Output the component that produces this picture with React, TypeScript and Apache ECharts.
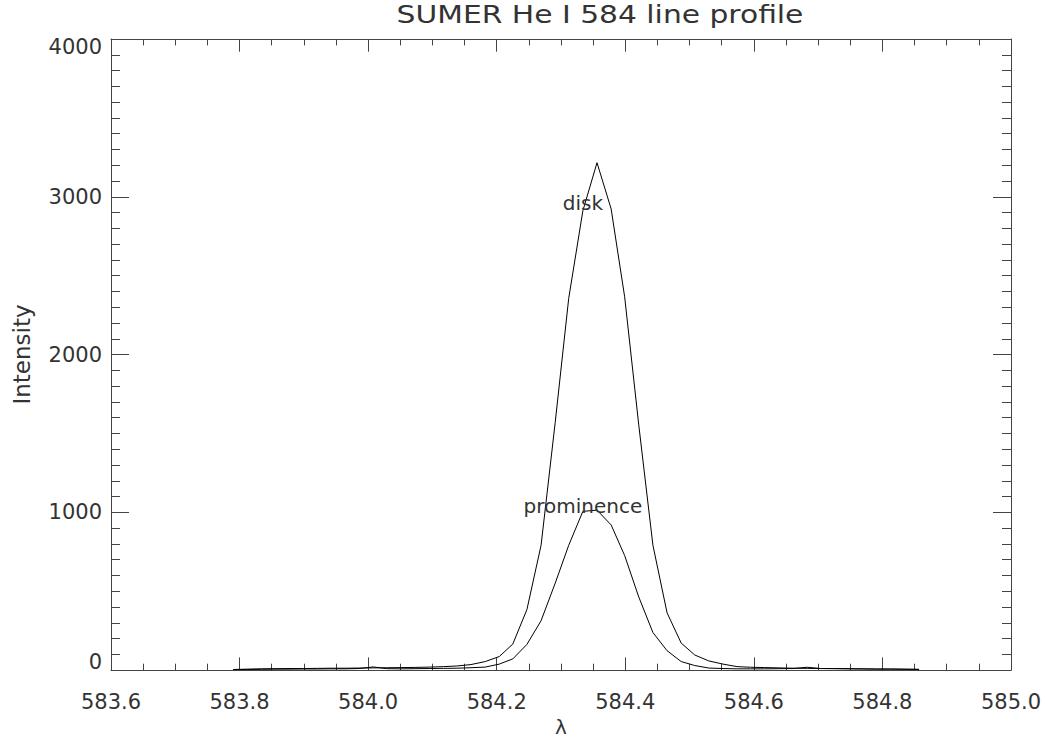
import React, { useEffect, useRef } from "react";
import * as echarts from "echarts";

const wavelengths = [
  583.790, 583.812, 583.834, 583.855, 583.877, 583.899, 583.921, 583.942, 583.964, 583.986,
  584.008, 584.029, 584.051, 584.073, 584.095, 584.117, 584.138, 584.160, 584.182, 584.204,
  584.225, 584.247, 584.269, 584.291, 584.312, 584.334, 584.356, 584.378, 584.399, 584.421,
  584.443, 584.465, 584.487, 584.508, 584.530, 584.552, 584.574, 584.595, 584.617, 584.639,
  584.661, 584.683, 584.704, 584.726, 584.748, 584.770, 584.791, 584.813, 584.835, 584.857,
];

const diskIntensity = [
  4, 6, 8, 9, 10, 10, 11, 12, 12, 13,
  14, 15, 16, 17, 19, 22, 26, 35, 54, 86,
  165, 384, 791, 1570, 2356, 2911, 3216, 2923, 2366, 1552,
  791, 363, 171, 96, 58, 38, 22, 18, 16, 14,
  12, 11, 10, 10, 9, 8, 7, 7, 6, 5,
];

const prominenceIntensity = [
  3, 4, 5, 6, 6, 7, 7, 8, 8, 10,
  20, 9, 8, 9, 10, 11, 12, 15, 19, 38,
  71, 163, 313, 551, 791, 1006, 1014, 920, 726, 463,
  238, 123, 54, 29, 13, 10, 8, 8, 8, 9,
  10, 18, 10, 9, 8, 7, 6, 6, 5, 4,
];

const xTickMin = 583.6;
const xTickMax = 585.0;
const yTickMax = 4000;

const diskLabelPos = [584.334, 2961];
const prominenceLabelPos = [584.334, 1041];

const TITLE = "SUMER He I 584 line profile";
const FONT = "DejaVu Sans";
const TEXT_COLOR = "#333";
const AXIS_COLOR = "#444";

export default function App() {
  const ref = useRef<HTMLDivElement>(null);
  useEffect(() => {
    if (!ref.current) return;
    const chart = echarts.init(ref.current, undefined, { renderer: "svg" });
    const disk = wavelengths.map((w, i) => [w, diskIntensity[i]]);
    const prom = wavelengths.map((w, i) => [w, prominenceIntensity[i]]);
    const xCommon = {
      type: "value" as const,
      min: xTickMin,
      max: xTickMax,
      interval: 0.2,
      axisLine: { show: true, onZero: false, lineStyle: { color: AXIS_COLOR, width: 1 } },
      axisTick: { show: true, inside: true, length: 12.7, lineStyle: { color: AXIS_COLOR } },
      minorTick: { show: true, splitNumber: 4, length: 6.4, lineStyle: { color: AXIS_COLOR } },
      splitLine: { show: false },
      minorSplitLine: { show: false },
    };
    const yCommon = {
      type: "value" as const,
      min: 0,
      max: yTickMax,
      interval: 1000,
      axisLine: { show: true, onZero: false, lineStyle: { color: AXIS_COLOR, width: 1 } },
      axisTick: { show: true, inside: true, length: 18, lineStyle: { color: AXIS_COLOR } },
      minorTick: { show: true, splitNumber: 10, length: 9, lineStyle: { color: AXIS_COLOR } },
      splitLine: { show: false },
      minorSplitLine: { show: false },
    };
    const labelStyle = {
      show: true,
      color: TEXT_COLOR,
      fontFamily: FONT,
      fontSize: 20,
      position: "inside" as const,
      align: "center" as const,
      verticalAlign: "middle" as const,
    };
    const yLabelText = { fontFamily: FONT, fontSize: 21, color: TEXT_COLOR };
    chart.setOption({
      animation: false,
      backgroundColor: "#fff",
      graphic: [
        {
          type: "text",
          x: 600,
          y: 15,
          scaleX: 1.24,
          style: {
            text: TITLE,
            fontFamily: FONT,
            fontSize: 24,
            fill: TEXT_COLOR,
            align: "center",
            verticalAlign: "middle",
          },
        },
      ],
      grid: { left: 111, right: 34, top: 39, bottom: 64, containLabel: false },
      xAxis: [
        {
          ...xCommon,
          position: "bottom",
          name: "λ",
          nameLocation: "middle",
          nameGap: 46,
          nameTextStyle: { fontFamily: FONT, fontSize: 20, color: TEXT_COLOR },
          axisLabel: {
            show: true,
            margin: 21,
            fontFamily: FONT,
            fontSize: 21,
            color: TEXT_COLOR,
            formatter: (v: number) => v.toFixed(1),
          },
        },
        { ...xCommon, position: "top", axisLabel: { show: false } },
      ],
      yAxis: [
        {
          ...yCommon,
          position: "left",
          name: "Intensity",
          nameLocation: "middle",
          nameGap: 78,
          nameRotate: 90,
          nameTextStyle: { fontFamily: FONT, fontSize: 23, color: TEXT_COLOR },
          axisLabel: {
            show: true,
            margin: 9,
            ...yLabelText,
            formatter: (v: number) => {
              if (v === 0) return "{bot|0}";
              if (v === yTickMax) return "{top|" + v + "}";
              return String(v);
            },
            rich: {
              top: { ...yLabelText, padding: [16, 0, 0, 0] },
              bot: { ...yLabelText, padding: [0, 0, 16, 0] },
            },
          },
        },
        { ...yCommon, position: "right", axisLabel: { show: false } },
      ],
      series: [
        {
          type: "line",
          name: "disk",
          data: disk,
          symbol: "none",
          lineStyle: { color: "#000", width: 1 },
          markPoint: {
            symbol: "circle",
            symbolSize: 0,
            data: [{ coord: diskLabelPos, label: { ...labelStyle, formatter: "disk" } }],
          },
        },
        {
          type: "line",
          name: "prominence",
          data: prom,
          symbol: "none",
          lineStyle: { color: "#000", width: 1 },
          markPoint: {
            symbol: "circle",
            symbolSize: 0,
            data: [
              { coord: prominenceLabelPos, label: { ...labelStyle, formatter: "prominence" } },
            ],
          },
        },
      ],
    });
    return () => chart.dispose();
  }, []);
  return (
    <div
      ref={ref}
      style={{ position: "fixed", left: 0, top: 0, width: 1045, height: 742 }}
    />
  );
}
